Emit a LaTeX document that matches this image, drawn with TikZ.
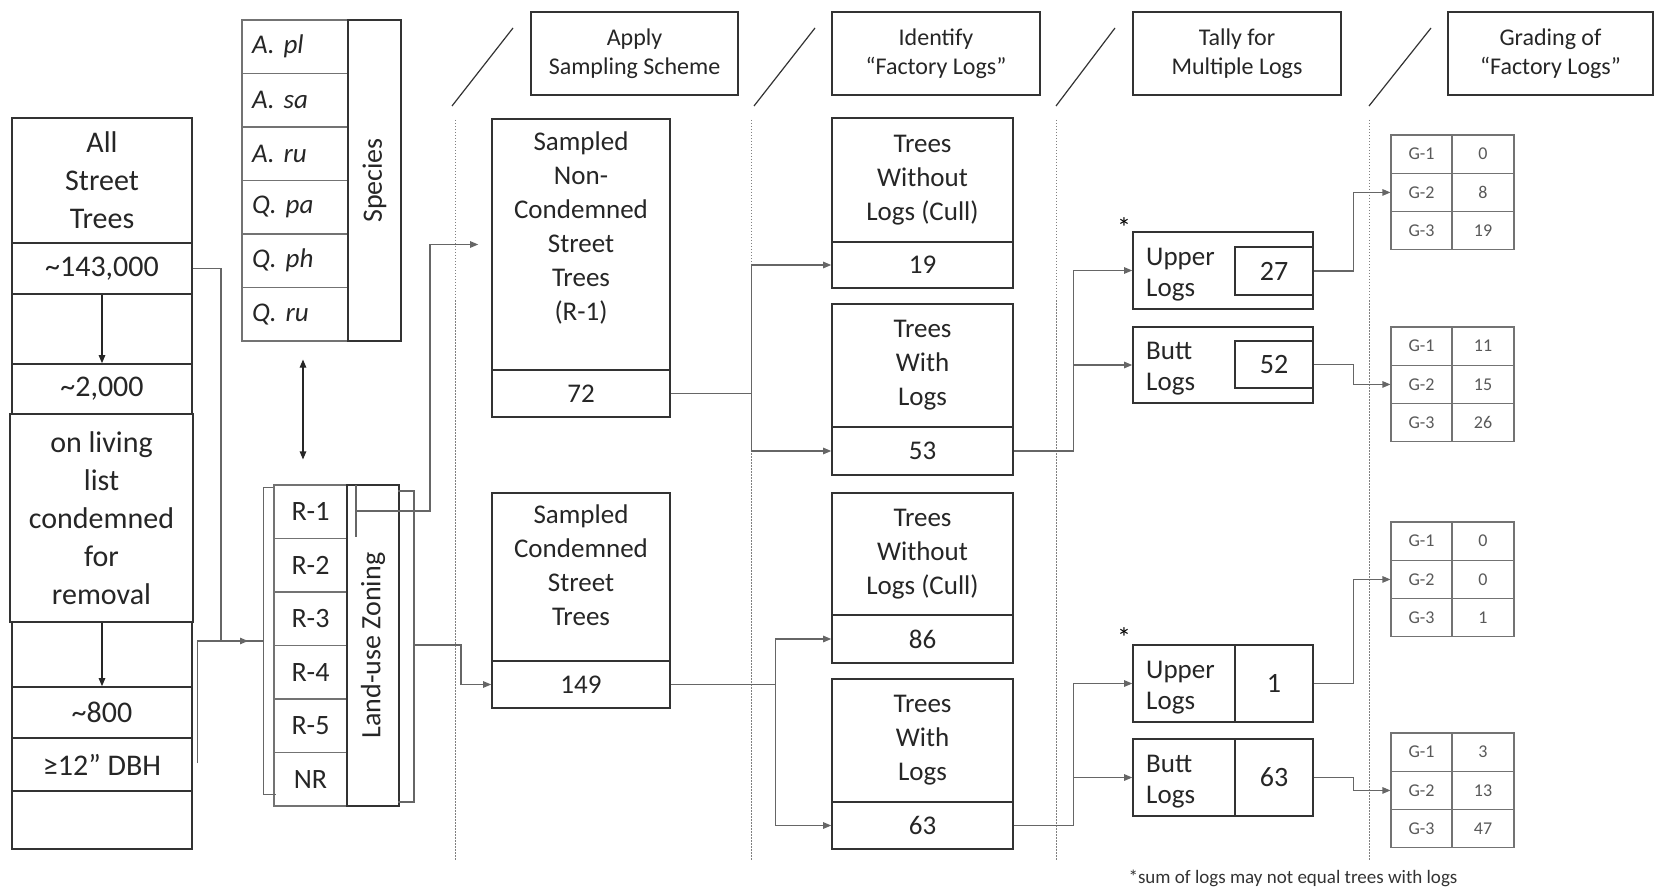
\documentclass[tikz,border=0pt]{standalone}
\usepackage{fontspec}
\setmainfont{Carlito}
\usetikzlibrary{arrows.meta,calc}
\frenchspacing
\newcommand\gradetab[5]{%
  \foreach \g/\v [count=\i] in {G-1/#3,G-2/#4,G-3/#5} {
    \node[gc,sz={61}{38.3},gf] (#1g\i) at (1421.5,{#2+19.15+38.3*(\i-1)}) {\g};
    \node[gc,sz={62}{38.3},gf] (#1v\i) at (1483,{#2+19.15+38.3*(\i-1)}) {\v};
  }}
\begin{document}
\begin{tikzpicture}[x=1pt,y=-1pt,
  sz/.style 2 args={minimum width=#1pt,minimum height=#2pt},
  bx/.style={draw=black!80,line width=1.6pt,inner sep=0pt,text=black!85},
  gc/.style={draw=black!55,line width=1.1pt,inner sep=0pt,text=black!85},
  conn/.style={draw=black!60,line width=1.1pt},
  arr/.style={conn,-{Triangle[length=8pt,width=6.5pt]}},
  dotv/.style={draw=black!50,line width=0.8pt,dash pattern=on 1.5pt off 1.5pt},
  slash/.style={draw=black!80,line width=1.2pt},
  f30/.style={font=\fontsize{30}{38}\selectfont},
  f28/.style={font=\fontsize{28}{34}\selectfont},
  f27/.style={font=\fontsize{27}{34}\selectfont},
  f24/.style={font=\fontsize{24}{29}\selectfont},
  gf/.style={font=\fontsize{18}{22}\selectfont,text=black!65}]
\useasboundingbox (0,0) rectangle (1656,890);
\fill[white] (0,0) rectangle (1656,890);

% ---- left column
\node[bx,sz={180}{125},f30,align=center] (allst) at (102,180.5) {All\\Street\\Trees};
\node[bx,sz={180}{51},f30] (n143) at (102,268.5) {\textasciitilde143,000};
\node[bx,sz={180}{70}] (blank1) at (102,329) {};
\node[bx,sz={180}{50},f30] (n2000) at (102,389) {\textasciitilde2,000};
\node[bx,line width=2.4pt,sz={183}{208},f30,align=center] (living) at (101.5,518) {on living\\list\\condemned\\for\\removal};
\node[bx,sz={180}{65}] (blank2) at (102,654.5) {};
\node[bx,sz={180}{51},f30] (n800) at (102,712.5) {\textasciitilde800};
\node[bx,sz={180}{53},f30] (dbh) at (102,764.5) {≥12” DBH};
\node[bx,sz={180}{58}] (blank3) at (102,820) {};
\draw[arr,draw=black!85] (n143.south) -- (n2000.north);
\draw[arr,draw=black!85] (n800.north |- living.south) -- (n800.north);

% ---- species
\foreach \t [count=\i] in {A. pl,A. sa,A. ru,Q. pa,Q. ph,Q. ru}
  \node[gc,sz={106}{53.5},text width=86pt,align=left,font=\fontsize{27}{30}\selectfont\itshape] (sp\i) at (295,{20+26.75+53.5*(\i-1)}) {\t};
\node[bx,rotate=90,sz={321}{53},f28] (spl) at (374.5,180.5) {Species};

% ---- zoning
\foreach \t [count=\i] in {R-1,R-2,R-3,R-4,R-5,NR}
  \node[gc,sz={73}{53.5},f28] (z\i) at (310.5,{485+26.75+53.5*(\i-1)}) {\t};
\node[bx,rotate=90,sz={321}{52},f28] (zl) at (373,645.5) {Land-use Zoning};
\draw[conn,draw=black!85,{Triangle[length=8pt,width=6.5pt]}-{Triangle[length=8pt,width=6.5pt]}]
  ($(sp6.south)+(8,18)$) -- ($(z1.north)+(-7.5,-25)$);

% ---- brackets and connectors to the zoning
\coordinate (zin) at (264,641);
\draw[conn] (n143.east) -| (221,641);
\draw[conn] ($(dbh.east)+(5,-1.5)$) |- (zin);
\draw[arr,shorten >=16pt] (221,641) -- (zin);
\draw[conn] ($(z1.north west)+(0,3)$) -- ++(-10,0) -- ++(0,307) -- ++(13,0);
\draw[conn] (398,491) -- (414,491) -- (414,802) -- (398,802);
\draw[conn] (356,485) -- (356,537);

% ---- headers
\node[bx,sz={207}{83},f24,align=center] (hap) at (634.5,53.5) {Apply\\Sampling Scheme};
\node[bx,sz={208}{83},f24,align=center] (hid) at (936,53.5) {Identify\\“Factory Logs”};
\node[bx,sz={208}{83},f24,align=center] (hta) at (1237,53.5) {Tally for\\Multiple Logs};
\node[bx,sz={205}{83},f24,align=center] (hgr) at (1550.5,53.5) {Grading of\\“Factory Logs”};
\draw[slash] (452,106) -- (513,28);
\draw[slash] (754,106) -- (815,28);
\draw[slash] (1056,106) -- (1115,28);
\draw[slash] (1369,106) -- (1431,28);
\foreach \x in {455,751,1056,1369} \draw[dotv] (\x,120) -- (\x,860);

% ---- sampled
\node[bx,sz={178}{251}] (nonc) at (581,244.5) {};
\node[f27,align=center,anchor=north,inner sep=0pt,text=black!85] (nonct) at ($(nonc.north)+(0,13)$) {Sampled\\Non-\\Condemned\\Street\\Trees\\(R-1)};
\node[bx,sz={178}{47},f27] (n72) at (581,393.5) {72};
\node[bx,sz={178}{168}] (cond) at (581,577) {};
\node[f27,align=center,anchor=north,inner sep=0pt,text=black!85] (condt) at ($(cond.north)+(0,12)$) {Sampled\\Condemned\\Street\\Trees};
\node[bx,sz={178}{47},f27] (n149) at (581,684.5) {149};
\draw[arr,shorten >=13pt] (356,511) -- (430,511) |- (nonc.west);
\draw[arr] (414,645) -- (461,645) |- (n149.west);

% ---- factory logs
\node[bx,sz={181}{124},f27,align=center] (wo1) at (922.5,180) {Trees\\Without\\Logs (Cull)};
\node[bx,sz={181}{46},f27] (n19) at (922.5,265) {19};
\node[bx,sz={181}{123},f27,align=center] (wi1) at (922.5,365.5) {Trees\\With\\Logs};
\node[bx,sz={181}{48},f27] (n53) at (922.5,451) {53};
\node[bx,sz={181}{122},f27,align=center] (wo2) at (922.5,554) {Trees\\Without\\Logs (Cull)};
\node[bx,sz={181}{48},f27] (n86) at (922.5,639) {86};
\node[bx,sz={181}{123},f27,align=center] (wi2) at (922.5,740.5) {Trees\\With\\Logs};
\node[bx,sz={181}{47},f27] (n63a) at (922.5,825.5) {63};
\coordinate (j72) at ($(n72.east)+(81,0)$);
\draw[conn] (n72.east) -- (j72);
\draw[arr] (j72) |- (n19.west);
\draw[arr] (j72) |- (n53.west);
\coordinate (j149) at ($(n149.east)+(105,0)$);
\draw[conn] (n149.east) -- (j149);
\draw[arr] (j149) |- (n86.west);
\draw[arr] (j149) |- (n63a.west);

% ---- tally
\node[bx,sz={180}{77}] (up1) at (1223,270.5) {};
\node[bx,sz={78}{48},f28] (u27) at (1274,271) {27};
\node[align=left,anchor=west,inner sep=0pt,text=black!85,font=\fontsize{27}{31}\selectfont] (up1t) at (1146,274.5) {Upper\\Logs};
\node[bx,sz={180}{76}] (bt1) at (1223,365) {};
\node[bx,sz={78}{47},f28] (b52) at (1274,364.5) {52};
\node[align=left,anchor=west,inner sep=0pt,text=black!85,font=\fontsize{27}{31}\selectfont] (bt1t) at (1146,369) {Butt\\Logs};
\node[bx,sz={180}{77}] (up2) at (1223,683.5) {};
\node[bx,sz={78}{77},f28] (u1) at (1274,683.5) {1};
\node[align=left,anchor=west,inner sep=0pt,text=black!85,font=\fontsize{27}{31}\selectfont] (up2t) at (1146,687.5) {Upper\\Logs};
\node[bx,sz={180}{77}] (bt2) at (1223,777.5) {};
\node[bx,sz={78}{77},f28] (b63) at (1274,777.5) {63};
\node[align=left,anchor=west,inner sep=0pt,text=black!85,font=\fontsize{27}{31}\selectfont] (bt2t) at (1146,781.5) {Butt\\Logs};
\node[font=\fontsize{28}{30}\selectfont,inner sep=0pt] (ast1) at (1124,228) {*};
\node[font=\fontsize{28}{30}\selectfont,inner sep=0pt] (ast2) at (1124,638) {*};
\coordinate (j53) at ($(n53.east)+(60,0)$);
\draw[conn] (n53.east) -- (j53);
\draw[arr] (j53) |- (up1.west);
\draw[arr] (j53) |- (bt1.west);
\coordinate (j63) at ($(n63a.east)+(60,0)$);
\draw[conn] (n63a.east) -- (j63);
\draw[arr] (j63) |- (up2.west);
\draw[arr] (j63) |- (bt2.west);

% ---- grading
\gradetab{ta}{135}{0}{8}{19}
\gradetab{tb}{327}{11}{15}{26}
\gradetab{tc}{522}{0}{0}{1}
\gradetab{td}{733}{3}{13}{47}
\draw[arr] (u27.east) -- ++(40,0) |- (tag2.west);
\draw[arr] (b52.east) -- ++(40,0) |- (tbg2.west);
\draw[arr] (u1.east) -- ++(40,0) |- (tcg2.west);
\draw[arr] (b63.east) -- ++(40,0) |- (tdg2.west);

\node[font=\fontsize{19}{23}\selectfont,text=black!80,inner sep=0pt] (foot) at (1293,878) {*sum of logs may not equal trees with logs};
\end{tikzpicture}
\end{document}
